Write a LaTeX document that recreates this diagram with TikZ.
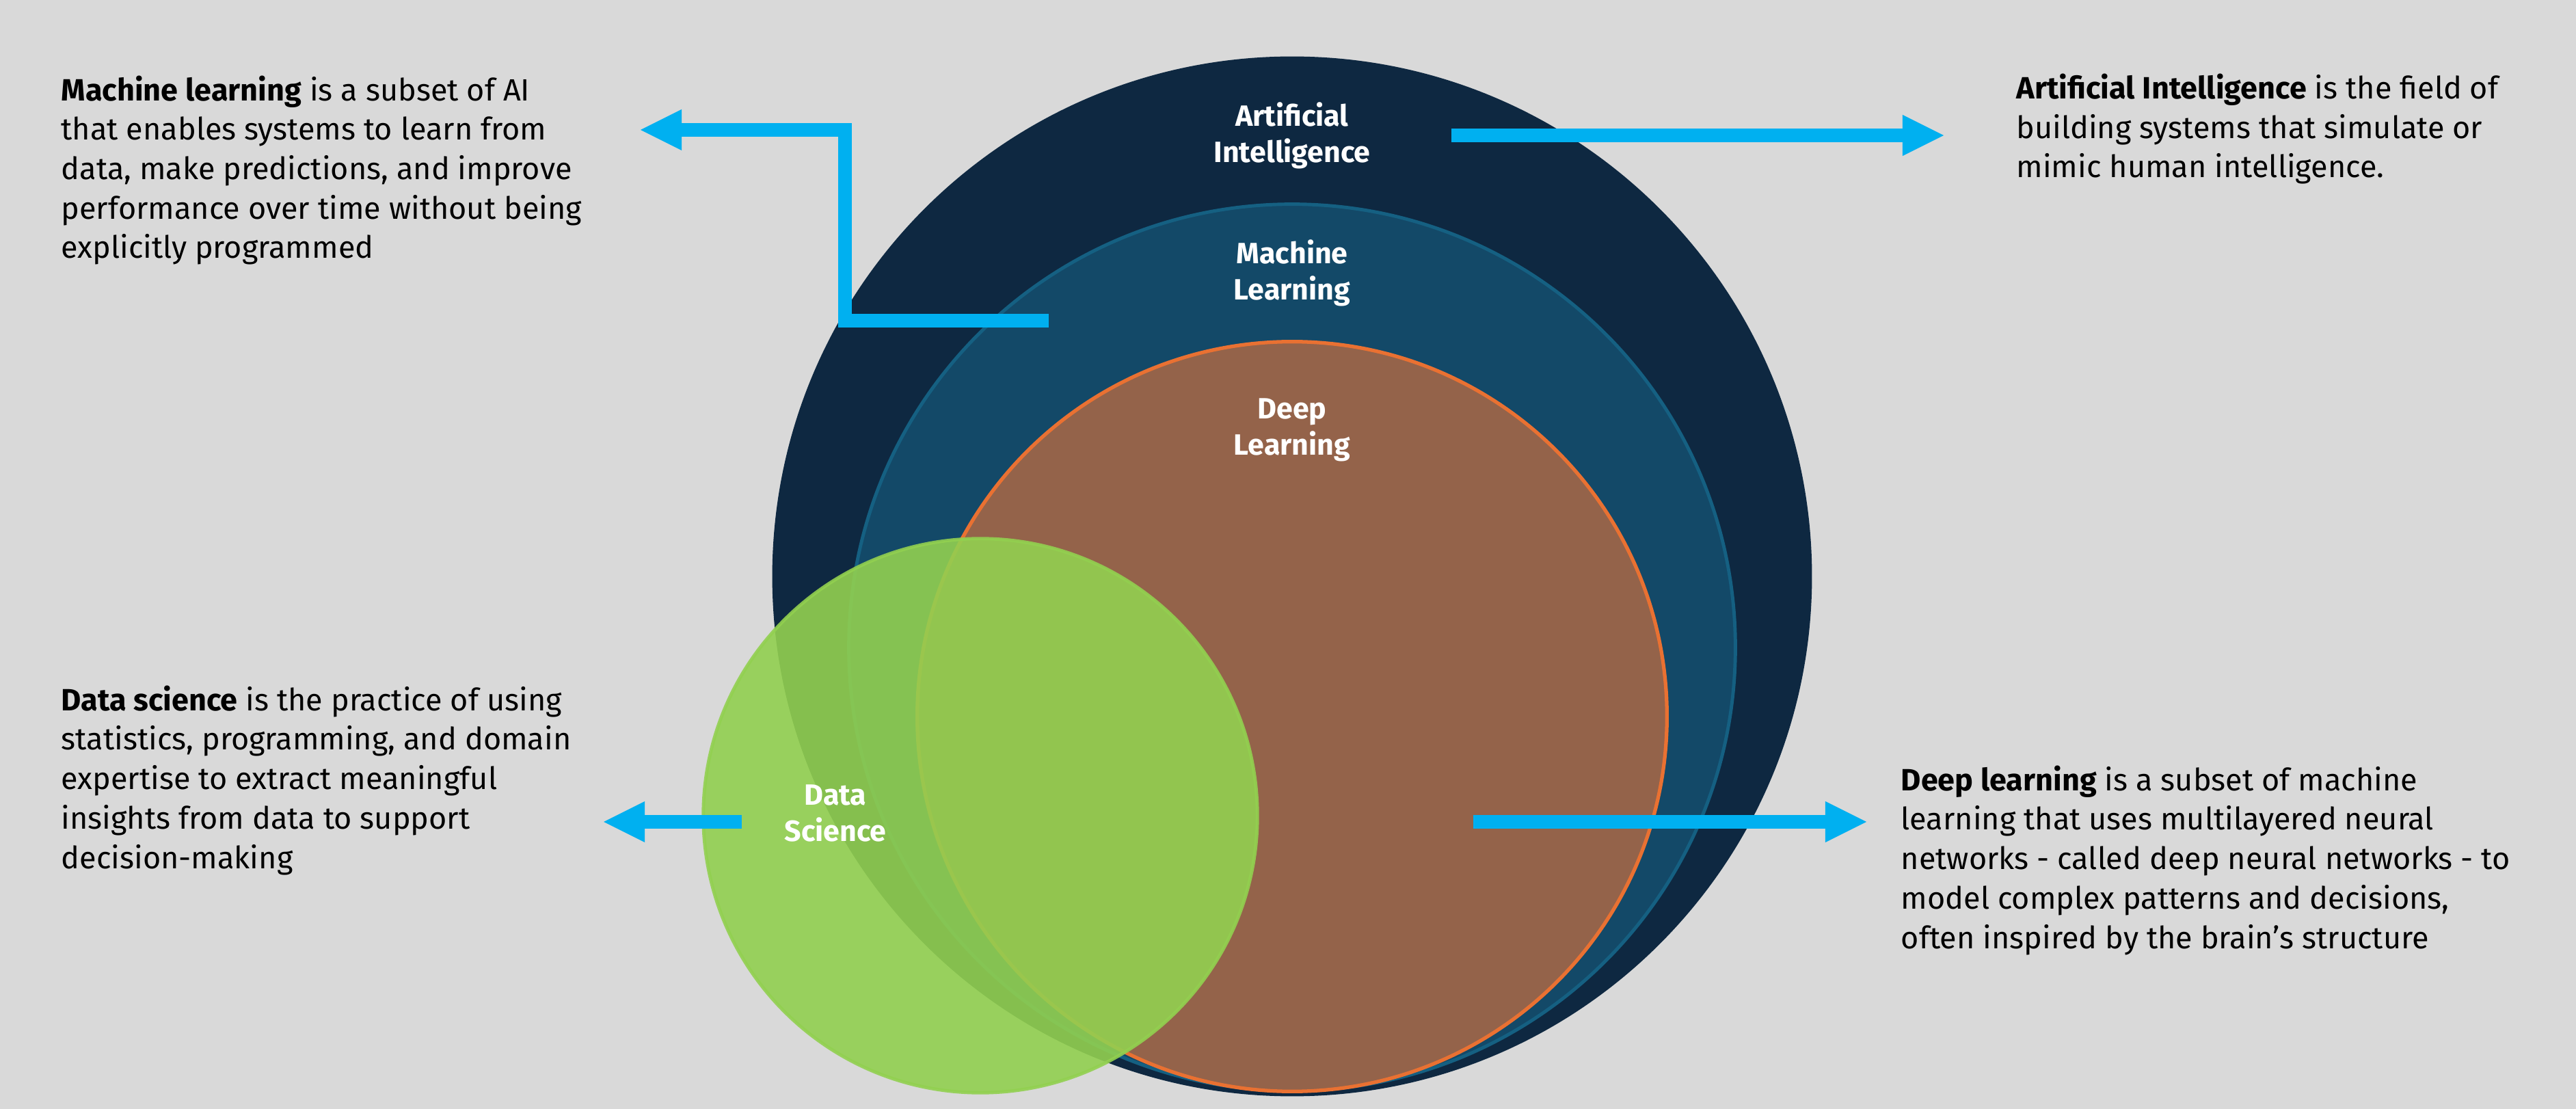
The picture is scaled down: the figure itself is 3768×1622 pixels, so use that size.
\documentclass[tikz,border=0pt]{standalone}
\usepackage{fontspec}
\setmainfont{Fira Sans}
\usepackage{xcolor}
\usepackage{tikz}
\usetikzlibrary{arrows.meta,positioning,calc}
\definecolor{bggray}{RGB}{217,217,217}
\definecolor{ainavy}{RGB}{14,40,65}
\definecolor{mlblue}{RGB}{19,73,104}
\definecolor{mledge}{RGB}{21,96,130}
\definecolor{dlbrown}{RGB}{148,99,74}
\definecolor{dlorange}{RGB}{233,113,50}
\definecolor{dsgreen}{RGB}{146,208,80}
\definecolor{pointcyan}{RGB}{0,176,240}
\tikzset{
  field/.style={circle,inner sep=0pt,minimum size=#1},
  fieldlabel/.style={text=white,font=\fontsize{12.2}{15.1}\selectfont\bfseries,align=center,inner sep=0pt,anchor=base},
  blurb/.style={font=\fontsize{12.8}{16.4}\selectfont,align=left,anchor=base west,inner sep=0pt},
  pointer/.style={pointcyan,line width=5.69pt,line join=miter,-{Triangle[length=6mm,width=6mm,line width=0pt]}}
}
\begin{document}
\begin{tikzpicture}[x=0.01cm,y=-0.01cm]
\fill[bggray] (0,0) rectangle (3768,1622);
\useasboundingbox (0,0) rectangle (3768,1622);
\node[field=15.2cm,fill=ainavy] (ai) at (1890,843) {};
\node[field=12.96cm,fill=mlblue,draw=mledge,line width=1.4pt] (ml) at (1890,947) {};
\node[field=10.96cm,fill=dlbrown,draw=dlorange,line width=1.5pt] (dl) at (1890,1048) {};
\node[field=8.1cm,fill=dsgreen,draw=dsgreen,line width=1.4pt,opacity=0.9] (ds) at (1434,1193) {};
% base of a multi-line node sits on its last line
\node[fieldlabel] (ai-label) at (1890,238) {Artificial\\Intelligence};
\node[fieldlabel] (ml-label) at (1890,439) {Machine\\Learning};
\node[fieldlabel] (dl-label) at (1890,666) {Deep\\Learning};
\node[fieldlabel] (ds-label) at (1222,1231) {Data\\Science};
\node[blurb] (ml-text) at (89,378) {\textbf{Machine learning} is a subset of AI\\that enables systems to learn from\\data, make predictions, and improve\\performance over time without being\\explicitly programmed};
\node[blurb] (ai-text) at (2949,260) {\textbf{Artificial Intelligence} is the field of\\building systems that simulate or\\mimic human intelligence.};
\node[blurb] (ds-text) at (89,1270) {\textbf{Data science} is the practice of using\\statistics, programming, and domain\\expertise to extract meaningful\\insights from data to support\\decision-making};
\node[blurb] (dl-text) at (2780,1387) {\textbf{Deep learning} is a subset of machine\\learning that uses multilayered neural\\networks - called deep neural networks - to\\model complex patterns and decisions,\\often inspired by the brain’s structure};
\coordinate (ai-tail) at (2123,198);
\coordinate (ai-tip) at (2843,198);
\coordinate (ml-tail) at (1534,469);
\coordinate (ml-bend) at (1236,190);
\coordinate (ml-tip) at (937,190);
\coordinate (ds-tail) at (1085,1202);
\coordinate (ds-tip) at (883,1202);
\coordinate (dl-tail) at (2155,1202);
\coordinate (dl-tip) at (2730,1202);
\draw[pointer] (ai-tail) -- (ai-tip);
\draw[pointer] (ml-tail) -| (ml-bend) -- (ml-tip);
\draw[pointer] (ds-tail) -- (ds-tip);
\draw[pointer] (dl-tail) -- (dl-tip);
\end{tikzpicture}
\end{document}
